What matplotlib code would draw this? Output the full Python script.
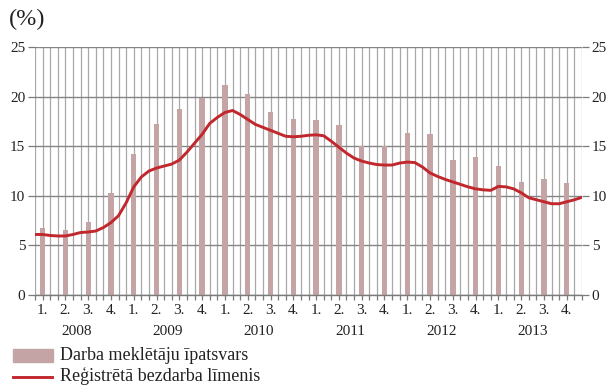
import matplotlib
matplotlib.use("Agg")
import matplotlib.pyplot as plt
from matplotlib.patches import Rectangle
from matplotlib.lines import Line2D

plt.rcParams['font.family'] = ['Liberation Serif', 'DejaVu Serif']

years = ['2008', '2009', '2010', '2011', '2012', '2013']
quarter_labels = ['1.', '2.', '3.', '4.']

# quarterly share of job seekers (bars), 2008 Q1 .. 2013 Q4
job_seekers = [6.8, 6.6, 7.4, 10.3,
               14.2, 17.2, 18.7, 19.9,
               21.2, 20.3, 18.4, 17.7,
               17.6, 17.1, 15.0, 15.0,
               16.3, 16.2, 13.6, 13.9,
               13.0, 11.4, 11.7, 11.3]

# monthly registered unemployment rate (line), read at each month gridline
unemployment = [6.1, 6.1, 6.0, 5.95, 5.95, 6.1, 6.3, 6.35, 6.45, 6.8, 7.3, 8.0,
                9.3, 10.9, 11.9, 12.5, 12.8, 13.0, 13.2, 13.6, 14.4, 15.3, 16.2, 17.3,
                17.9, 18.4, 18.6, 18.2, 17.7, 17.2, 16.9, 16.6, 16.3, 16.0, 15.95, 16.0,
                16.1, 16.15, 16.05, 15.5, 14.9, 14.3, 13.8, 13.5, 13.3, 13.15, 13.1, 13.1,
                13.3, 13.4, 13.35, 12.9, 12.3, 11.95, 11.65, 11.4, 11.15, 10.9, 10.7, 10.6,
                10.55, 10.95, 10.9, 10.7, 10.3, 9.8, 9.6, 9.4, 9.2, 9.2, 9.4, 9.6,
                9.85]

bar_color = '#c4a4a4'
line_color = '#c1272d'

W, H = 607, 387
fig = plt.figure(figsize=(W / 100, H / 100), dpi=100)
ax = fig.add_axes([35 / W, 1 - 295 / H, 547 / W, 248 / H])

months = list(range(len(unemployment)))
bar_x = [3 * i + 1 for i in range(len(job_seekers))]

ax.bar(bar_x, job_seekers, width=0.7, color=bar_color, zorder=2)
ax.plot(months, unemployment, color=line_color, lw=2.1, zorder=3,
        solid_capstyle='butt')

ax.set_xlim(0, 72)
ax.set_ylim(0, 25)
ax.set_xticks(months)
ax.set_xticklabels([])
ax.set_yticks([0, 5, 10, 15, 20, 25])
ax.grid(axis='x', color='#a8a8a8', lw=0.9, zorder=1)
ax.grid(axis='y', color='#858585', lw=1.0, zorder=1)
ax.set_axisbelow(True)
for s in ['top', 'left', 'right']:
    ax.spines[s].set_visible(False)
ax.spines['bottom'].set_color('#7a7a7a')
ax.spines['bottom'].set_linewidth(1.0)
ax.tick_params(axis='x', length=3.5, color='#7a7a7a', width=0.9)
ax.tick_params(axis='y', length=5, color='#7a7a7a', width=0.9,
               labelsize=11, labelcolor='#222222', pad=2,
               left=True, right=True, labelleft=True, labelright=True)

trans = ax.get_xaxis_transform()
for i, x in enumerate(bar_x):
    ax.text(x, -0.035, quarter_labels[i % 4], transform=trans, ha='center',
            va='top', fontsize=11, color='#222222')
for j, y in enumerate(years):
    ax.text(12 * j + 5.5, -0.12, y, transform=trans, ha='center',
            va='top', fontsize=11, color='#222222')

fig.text(9 / W, 1 - 19 / H, '(%)', fontsize=17.5, va='center', ha='left',
         color='#222222')

# legend
fig.add_artist(Rectangle((13 / W, 1 - 362 / H), 40 / W, 13 / H,
                         transform=fig.transFigure, color=bar_color))
fig.text(60 / W, 1 - 356 / H, 'Darba meklētāju īpatsvars', fontsize=13,
         va='center', ha='left', color='#222222')
fig.add_artist(Line2D([13 / W, 52 / W], [1 - 377 / H, 1 - 377 / H],
                      transform=fig.transFigure, color=line_color, lw=2.1))
fig.text(60 / W, 1 - 376.5 / H, 'Reģistrētā bezdarba līmenis', fontsize=13,
         va='center', ha='left', color='#222222')

fig.savefig('out.png', dpi=100)
